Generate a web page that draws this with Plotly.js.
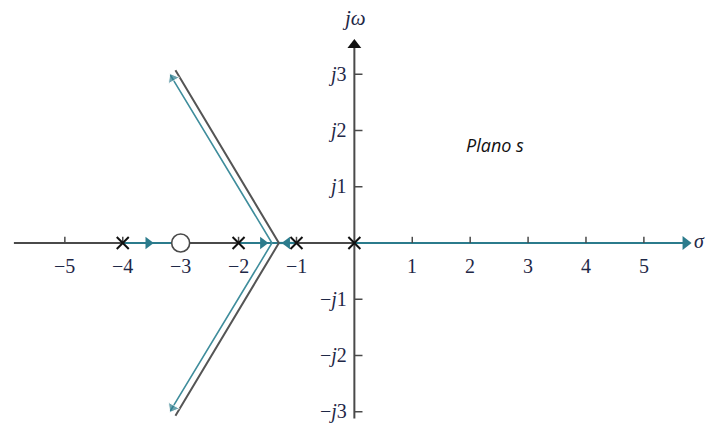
<!DOCTYPE html>
<html>
<head>
<meta charset="utf-8">
<script src="https://cdn.plot.ly/plotly-3.0.1.min.js"></script>
<style>
  html, body { margin: 0; padding: 0; background: #fff; }
  #plot { width: 707px; height: 423px; }
</style>
</head>
<body>
<div id="plot"></div>
<script>
// Root locus of G(s) = K(s+3) / [s(s+1)(s+2)(s+4)]
const poles = [0, -1, -2, -4];
const zeros = [-3];
const centroid = -4 / 3;                 // (sum poles - sum zeros) / (n - m)
const branchTip = [-3.12, 3.05];         // end of the ±60° asymptotic branches
const realLocus = [[-4, -3], [-2, -1]];  // segments of the real axis on the locus
const realArrows = [-3.56, -1.58, -1.16];
const realArrowDir = ["right", "right", "left"];

// axis ticks and their labels
const xTicks = [-5, -4, -3, -2, -1, 1, 2, 3, 4, 5];
const xTickLabels = ["−5", "−4", "−3", "−2", "−1", "1", "2", "3", "4", "5"];
const yTicks = [3, 2, 1, -1, -2, -3];
const yTickLabels = ["<i>j</i>3", "<i>j</i>2", "<i>j</i>1", "−<i>j</i>1", "−<i>j</i>2", "−<i>j</i>3"];

const axisX = [-5.88, 5.72];
const axisY = [-3.12, 3.52];

const TEAL = "#2b7b8c";
const GRAY = "#4a4a4a";
const LABEL = "#1f2847";
const SERIF = "Liberation Serif";

const traces = [];

// negative real axis (gray), positive real axis (teal)
traces.push({ x: [axisX[0], 0], y: [0, 0], mode: "lines", line: { color: GRAY, width: 2 }, hoverinfo: "skip" });
traces.push({ x: [0, axisX[1]], y: [0, 0], mode: "lines", line: { color: TEAL, width: 2.2 }, hoverinfo: "skip" });

// real-axis locus segments
realLocus.forEach(function (seg) {
  traces.push({ x: [seg[0], seg[1]], y: [0, 0], mode: "lines", line: { color: TEAL, width: 2.2 }, hoverinfo: "skip" });
});
traces.push({ x: [-1, centroid], y: [0, 0], mode: "lines", line: { color: TEAL, width: 2.2 }, hoverinfo: "skip" });

// imaginary axis
traces.push({ x: [0, 0], y: axisY, mode: "lines", line: { color: GRAY, width: 2 }, hoverinfo: "skip" });

// tick marks
const xtx = [], xty = [];
xTicks.forEach(function (t) { xtx.push(t, t, null); xty.push(0, 0.11, null); });
traces.push({ x: xtx, y: xty, mode: "lines", line: { color: GRAY, width: 1.5 }, hoverinfo: "skip" });
const ytx = [], yty = [];
yTicks.forEach(function (t) { ytx.push(0, 0.14, null); yty.push(t, t, null); });
traces.push({ x: ytx, y: yty, mode: "lines", line: { color: GRAY, width: 1.5 }, hoverinfo: "skip" });

// complex branches: gray outer line and teal inner line
const off = 0.09;
traces.push({
  x: [branchTip[0] + 0.03, centroid + 0.03, branchTip[0] + 0.03],
  y: [branchTip[1] + 0.02, 0, -branchTip[1] - 0.02],
  mode: "lines", line: { color: "#555", width: 2 }, hoverinfo: "skip"
});
traces.push({
  x: [branchTip[0] - off + 0.03, centroid - off, branchTip[0] - off + 0.03],
  y: [branchTip[1] - 0.06, 0, -branchTip[1] + 0.06],
  mode: "lines", line: { color: "#3f8d9c", width: 1.6 }, hoverinfo: "skip"
});

// branch arrowheads
traces.push({
  x: [branchTip[0] - 0.02, branchTip[0] - 0.02],
  y: [branchTip[1] - 0.12, -branchTip[1] + 0.12],
  mode: "markers",
  marker: { symbol: ["triangle-up", "triangle-down"], angle: [-30, 30], size: [11, 11], color: TEAL },
  hoverinfo: "skip"
});

// real-axis arrowheads
traces.push({
  x: realArrows, y: realArrows.map(function () { return 0; }),
  mode: "markers",
  marker: { symbol: realArrowDir.map(function (d) { return "triangle-" + d; }), size: 11, color: TEAL },
  hoverinfo: "skip"
});

// axis arrowheads
traces.push({ x: [axisX[1]], y: [0], mode: "markers", marker: { symbol: "triangle-right", size: 12, color: TEAL }, hoverinfo: "skip" });
traces.push({ x: [0], y: [axisY[1]], mode: "markers", marker: { symbol: "triangle-up", size: 12, color: "#111" }, hoverinfo: "skip" });

// zero and poles
traces.push({
  x: zeros, y: zeros.map(function () { return 0; }), mode: "markers",
  marker: { symbol: "circle", size: 18, color: "#fff", line: { color: GRAY, width: 1.6 } }, hoverinfo: "skip"
});
traces.push({
  x: poles, y: poles.map(function () { return 0; }), mode: "markers",
  marker: { symbol: "x-thin", size: 12, line: { color: "#111", width: 2 } }, hoverinfo: "skip"
});

// tick labels as annotations
const labelFont = { family: SERIF, size: 20, color: LABEL };
const annotations = [];
xTicks.forEach(function (t, i) {
  annotations.push({ x: t, y: -0.41, text: xTickLabels[i], showarrow: false,
    xanchor: "center", yanchor: "middle", font: labelFont });
});
yTicks.forEach(function (t, i) {
  annotations.push({ x: -0.1, y: t, text: yTickLabels[i], showarrow: false,
    xanchor: "right", yanchor: "middle", font: labelFont });
});
annotations.push(
  { x: 0, y: 4.0, text: "<i>jω</i>", showarrow: false, xanchor: "center",
    font: { family: SERIF, size: 21, color: LABEL } },
  { x: 6.09, y: 0.03, text: "<i>σ</i>", showarrow: false, xanchor: "right",
    font: { family: SERIF, size: 20, color: LABEL } },
  { x: 2.43, y: 1.74, text: "<i>Plano s</i>", showarrow: false,
    font: { family: "Open Sans", size: 18, color: "#111" } }
);

const layout = {
  width: 707, height: 423,
  margin: { l: 0, r: 0, t: 0, b: 0 },
  paper_bgcolor: "#fff", plot_bgcolor: "#fff",
  showlegend: false,
  xaxis: { range: [-6.12, 6.09], visible: false, fixedrange: true },
  yaxis: { range: [-3.2, 4.32], visible: false, fixedrange: true },
  annotations: annotations
};

Plotly.newPlot("plot", traces, layout, { staticPlot: true, displayModeBar: false });
</script>
</body>
</html>
